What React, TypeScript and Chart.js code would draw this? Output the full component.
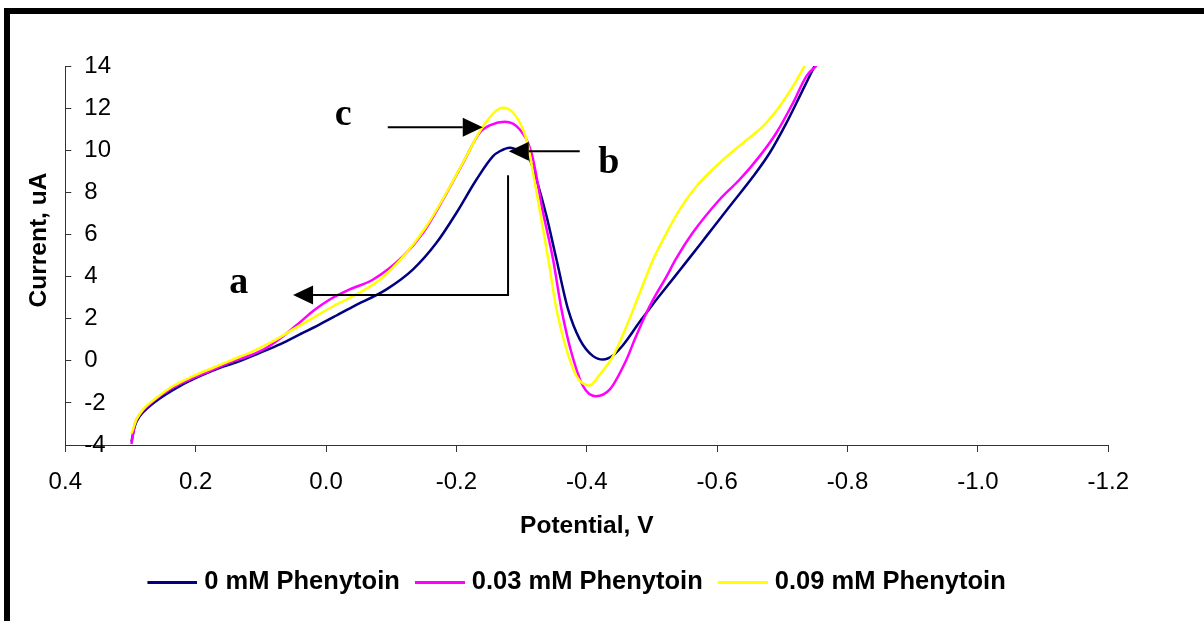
import { useEffect, useRef } from "react";
import { Chart, registerables } from "chart.js";

Chart.register(...registerables);

// Linear sweep voltammograms: potential (V) against current (uA)
const seriesLabels = ["0 mM Phenytoin", "0.03 mM Phenytoin", "0.09 mM Phenytoin"];
const seriesColors = ["#000080", "#FF00FF", "#FFFF00"];

const potential0 = [
  0.2985, 0.2934, 0.2857, 0.2704, 0.25, 0.2244, 0.1937, 0.163, 0.1323, 0.1016, 0.0709, 0.0403,
  0.0096, -0.016, -0.04, -0.0927, -0.1335, -0.1694, -0.2001, -0.2308, -0.2562, -0.2665, -0.2818,
  -0.2972, -0.3125, -0.3228, -0.3382, -0.3535, -0.3713, -0.3892, -0.4096, -0.425, -0.44, -0.4557,
  -0.4812, -0.5017, -0.5222, -0.5426, -0.563, -0.5836, -0.6193, -0.6551, -0.6807, -0.7063, -0.7267,
  -0.7497,
];
const current0 = [
  -3.85, -3.1, -2.63, -2.15, -1.68, -1.2, -0.73, -0.33, -0.02, 0.38, 0.78, 1.25, 1.73, 2.15, 2.55,
  3.39, 4.34, 5.6, 7.03, 8.61, 9.72, 9.95, 10.12, 9.95, 9.56, 8.61, 6.87, 4.81, 2.44, 1.02, 0.22,
  0.06, 0.25, 0.75, 1.85, 2.7, 3.5, 4.3, 5.1, 5.92, 7.34, 8.75, 9.88, 11.3, 12.57, 14.02,
];

const potential1 = [
  0.2985, 0.2934, 0.2857, 0.2653, 0.2397, 0.209, 0.1783, 0.1477, 0.117, 0.0914, 0.0659, 0.0403,
  0.0199, -0.0057, -0.0364, -0.0722, -0.1182, -0.1489, -0.1795, -0.2102, -0.2358, -0.254, -0.2742,
  -0.2972, -0.3151, -0.333, -0.3483, -0.3612, -0.3765, -0.3943, -0.4138, -0.4353, -0.4609, -0.4736,
  -0.4916, -0.5017, -0.5222, -0.537, -0.563, -0.6038, -0.6345, -0.6652, -0.6909, -0.7164, -0.737,
  -0.7523,
];
const current1 = [
  -3.95, -3.02, -2.55, -1.92, -1.36, -0.89, -0.49, -0.09, 0.25, 0.62, 1.17, 1.82, 2.36, 2.91, 3.39,
  3.86, 4.97, 6.08, 7.66, 9.4, 10.83, 11.22, 11.35, 10.98, 9.88, 7.03, 4.81, 2.44, 0.38, -1.2, -1.68,
  -1.36, 0.06, 1.02, 2.28, 2.9, 4.0, 4.85, 6.1, 7.66, 8.61, 9.72, 10.83, 12.25, 13.52, 14.02,
];

const potential2 = [
  0.2985, 0.2908, 0.2806, 0.26, 0.2346, 0.204, 0.1733, 0.1426, 0.1119, 0.0812, 0.0506, 0.0199,
  -0.0108, -0.0314, -0.0824, -0.1234, -0.154, -0.1848, -0.2154, -0.2409, -0.2716, -0.287, -0.3023,
  -0.31, -0.3176, -0.333, -0.341, -0.3535, -0.3688, -0.3842, -0.4035, -0.42, -0.4403, -0.4609,
  -0.4813, -0.5017, -0.517, -0.5426, -0.5682, -0.6038, -0.6397, -0.6703, -0.6959, -0.7164, -0.7343,
];
const current2 = [
  -3.45, -2.79, -2.31, -1.76, -1.2, -0.73, -0.33, 0.06, 0.46, 0.93, 1.49, 2.04, 2.59, 2.91, 3.85,
  5.13, 6.39, 7.98, 9.72, 11.14, 12.02, 11.78, 10.98, 10.19, 8.93, 6.24, 4.81, 2.44, 0.54, -0.73,
  -1.17, -0.65, 0.22, 1.64, 3.23, 4.81, 5.76, 7.19, 8.29, 9.4, 10.35, 11.14, 12.09, 13.04, 14.02,
];

const potentialTicks = [0.4, 0.2, 0.0, -0.2, -0.4, -0.6, -0.8, -1.0, -1.2];
const currentTicks = [-4, -2, 0, 2, 4, 6, 8, 10, 12, 14];

const xAxisTitle = "Potential, V";
const yAxisTitle = "Current, uA";

// Peak markers, in (potential, current) units
const markerLetters = [
  { text: "a", x: 0.1339, y: 3.23 },
  { text: "b", x: -0.4337, y: 8.93 },
  { text: "c", x: -0.0264, y: 11.22 },
];
const markerArrows: number[][][] = [
  [[-0.0947, 11.09], [-0.2404, 11.09]],
  [[-0.3892, 9.95], [-0.2803, 9.95]],
  [[-0.2792, 8.81], [-0.2792, 3.12], [0.0506, 3.12]],
];

const SANS = "'Liberation Sans', Arial, sans-serif";
const SERIF = "'Liberation Serif', 'Times New Roman', serif";

function makeSwatch(color: string): HTMLCanvasElement {
  const c = document.createElement("canvas");
  c.width = 56;
  c.height = 7;
  const g = c.getContext("2d")!;
  g.strokeStyle = color;
  g.lineWidth = 3;
  g.beginPath();
  g.moveTo(6, 3.5);
  g.lineTo(56, 3.5);
  g.stroke();
  return c;
}

const markerPlugin = {
  id: "peakMarkers",
  afterDatasetsDraw(chart: any) {
    const { ctx, chartArea, scales } = chart;
    const xs = scales.x;
    const ys = scales.y;

    // vertical axis title
    ctx.save();
    ctx.translate(chartArea.left - 25.8, (chartArea.top + chartArea.bottom) / 2 - 15.5);
    ctx.rotate(-Math.PI / 2);
    ctx.font = `bold 24.5px ${SANS}`;
    ctx.fillStyle = "#000";
    ctx.textAlign = "center";
    ctx.textBaseline = "middle";
    ctx.fillText(yAxisTitle, 0, 0);
    ctx.restore();

    ctx.save();
    ctx.fillStyle = "#000";
    ctx.strokeStyle = "#000";
    ctx.lineWidth = 2;
    ctx.lineJoin = "miter";
    ctx.font = `bold 38px ${SERIF}`;
    ctx.textAlign = "center";
    ctx.textBaseline = "alphabetic";
    for (const m of markerLetters) {
      ctx.fillText(m.text, xs.getPixelForValue(m.x), ys.getPixelForValue(m.y));
    }
    const headLen = 20;
    const headHalf = 9.5;
    for (const path of markerArrows) {
      const pts = path.map(([vx, vy]) => [xs.getPixelForValue(vx), ys.getPixelForValue(vy)]);
      const [tx, ty] = pts[pts.length - 1];
      const [px, py] = pts[pts.length - 2];
      const len = Math.hypot(tx - px, ty - py);
      const ux = (tx - px) / len;
      const uy = (ty - py) / len;
      const bx = tx - ux * headLen;
      const by = ty - uy * headLen;
      ctx.beginPath();
      ctx.moveTo(pts[0][0], pts[0][1]);
      for (let i = 1; i < pts.length - 1; i++) ctx.lineTo(pts[i][0], pts[i][1]);
      ctx.lineTo(bx, by);
      ctx.stroke();
      ctx.beginPath();
      ctx.moveTo(tx, ty);
      ctx.lineTo(bx - uy * headHalf, by + ux * headHalf);
      ctx.lineTo(bx + uy * headHalf, by - ux * headHalf);
      ctx.closePath();
      ctx.fill();
    }
    ctx.restore();
  },
};

const toPoints = (xs: number[], ys: number[]) => xs.map((x, i) => ({ x, y: ys[i] }));

export default function App() {
  const ref = useRef<HTMLCanvasElement>(null);

  useEffect(() => {
    const swatches = seriesColors.map(makeSwatch);
    const sweeps = [
      toPoints(potential0, current0),
      toPoints(potential1, current1),
      toPoints(potential2, current2),
    ];
    const axisColor = "#333";

    const chart = new Chart(ref.current!, {
      type: "line",
      data: {
        datasets: sweeps.map((pts, i) => ({
          label: seriesLabels[i],
          data: pts,
          borderColor: seriesColors[i],
          backgroundColor: seriesColors[i],
          borderWidth: 2.5,
          pointRadius: 0,
          fill: false,
          cubicInterpolationMode: "monotone" as const,
          order: 2 - i,
        })),
      },
      options: {
        animation: false,
        responsive: false,
        devicePixelRatio: 1,
        layout: { padding: { left: 44.7, right: 95.7, top: 66, bottom: 15.8 } },
        plugins: {
          tooltip: { enabled: false },
          legend: {
            position: "bottom",
            labels: {
              font: { family: SANS, size: 25.5, weight: "bold" },
              color: "#000",
              padding: 15,
              usePointStyle: true,
              pointStyleWidth: 44.25,
              sort: (a: any, b: any) => a.datasetIndex - b.datasetIndex,
              generateLabels: (c: any) =>
                (Chart.defaults.plugins.legend.labels as any)
                  .generateLabels(c)
                  .map((item: any) => ({ ...item, pointStyle: swatches[item.datasetIndex] })),
            },
          },
        },
        scales: {
          x: {
            type: "linear",
            reverse: true,
            min: -1.2,
            max: 0.4,
            afterBuildTicks: (s: any) => {
              s.ticks = potentialTicks.map((value) => ({ value }));
            },
            afterFit: (s: any) => {
              s.height = 109.7;
            },
            ticks: {
              autoSkip: false,
              maxRotation: 0,
              padding: 15.6,
              color: "#000",
              font: { family: SANS, size: 24 },
              callback: (v: any) => {
                const n = Number(v);
                return Math.abs(n) < 1e-9 ? "0.0" : n.toFixed(1);
              },
            },
            grid: { drawOnChartArea: false, drawTicks: true, tickLength: 7, color: axisColor },
            border: { display: true, color: axisColor, width: 1 },
            title: {
              display: true,
              text: xAxisTitle,
              color: "#000",
              font: { family: SANS, size: 24.5, weight: "bold" },
              padding: { top: 0, bottom: 14 },
            },
          },
          y: {
            type: "linear",
            min: -4,
            max: 14,
            afterBuildTicks: (s: any) => {
              s.ticks = currentTicks.map((value) => ({ value }));
            },
            afterFit: (s: any) => {
              s.width = 20.6;
            },
            ticks: {
              mirror: true,
              padding: 19,
              color: "#000",
              font: { family: SANS, size: 24 },
              callback: (v: any) => String(v),
            },
            grid: { drawOnChartArea: false, drawTicks: true, tickLength: -6, color: axisColor },
            border: { display: true, color: axisColor, width: 1 },
          },
        },
      },
      plugins: [markerPlugin],
    } as any);

    return () => chart.destroy();
  }, []);

  return (
    <div
      style={{
        position: "fixed",
        left: 0,
        top: 0,
        width: 1204,
        height: 621,
        overflow: "hidden",
        background: "#fff",
      }}
    >
      <div
        style={{
          position: "absolute",
          left: 4,
          top: 8,
          right: 0,
          bottom: 0,
          borderTop: "6px solid #000",
          borderLeft: "6px solid #000",
        }}
      />
      <canvas
        ref={ref}
        width={1204}
        height={621}
        style={{ position: "absolute", left: 0, top: 0, width: 1204, height: 621 }}
      />
    </div>
  );
}
